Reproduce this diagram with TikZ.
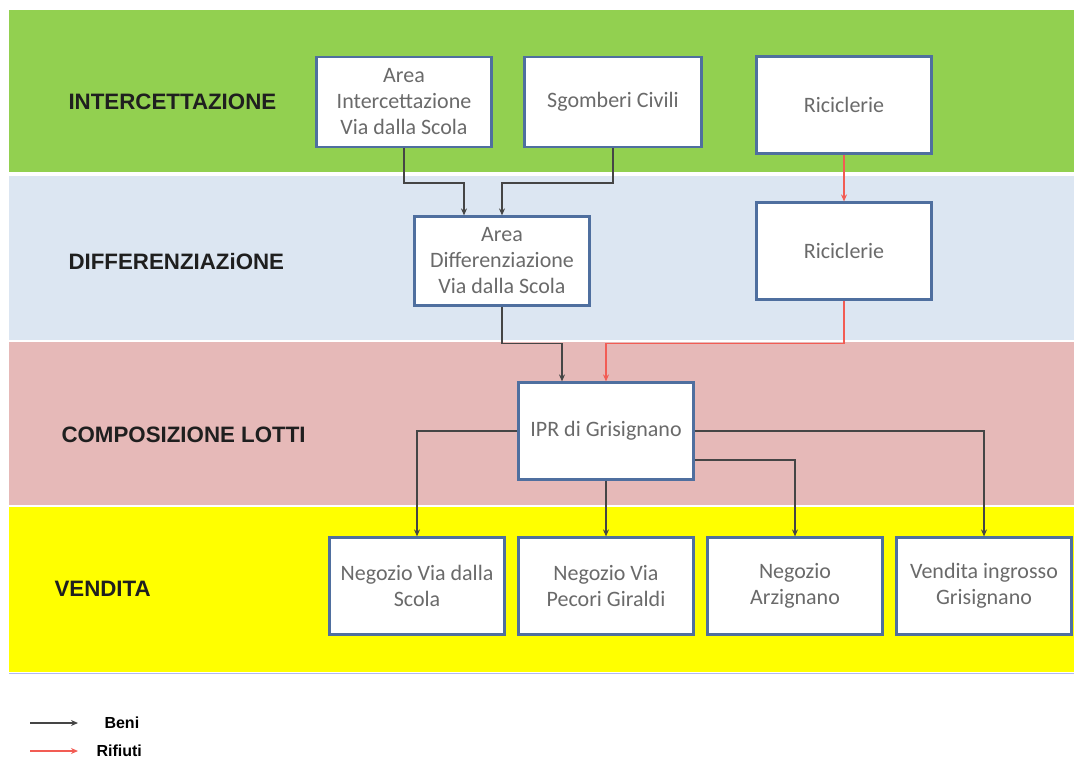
\documentclass[tikz,border=0pt]{standalone}
\usepackage{fontspec}
\setmainfont{Carlito}
\newfontfamily\headfont{Liberation Sans}
\usepackage{tikz}
\usetikzlibrary{arrows.meta, positioning, calc}
\definecolor{bandgreen}{HTML}{92D050}
\definecolor{bandblue}{HTML}{DCE6F2}
\definecolor{bandpink}{HTML}{E6B9B8}
\definecolor{bandyellow}{HTML}{FFFF00}
\definecolor{boxline}{HTML}{4F6F9F}
\definecolor{boxtext}{HTML}{6A6A6A}
\definecolor{beniline}{HTML}{454545}
\definecolor{rifline}{HTML}{F25C54}

\begin{document}
\begin{tikzpicture}[
    x=1pt, y=-1pt,
    box/.style={rectangle, draw=boxline, line width=2.2pt, fill=white, text=boxtext,
        minimum width=175pt, minimum height=97pt, align=center, inner sep=2pt,
        font=\fontsize{22}{26}\selectfont},
    phase/.style={anchor=west, font=\headfont\bfseries\fontsize{22.3}{24}\selectfont, text=black!88},
    legtxt/.style={anchor=west, font=\headfont\bfseries\fontsize{16}{18}\selectfont},
    beni/.style={-{Stealth[length=7pt, width=6pt]}, draw=beniline, line width=1.4pt},
    rifiuti/.style={-{Stealth[length=7pt, width=6pt]}, draw=rifline, line width=1.4pt}
]
\useasboundingbox (0,0) rectangle (1074,760);
\fill[bandgreen] (9,10) rectangle (1074,172);
\fill[bandblue] (9,176) rectangle (1074,340);
\fill[bandpink] (9,342) rectangle (1074,505);
\fill[bandyellow] (9,507) rectangle (1074,672);
\draw[bandblue!80!blue, line width=0.8pt] (9,673) -- (1074,673);

\node[phase] (ph1) at (65,102) {INTERCETTAZIONE};
\node[phase] (ph2) at (65,262) {DIFFERENZIAZiONE};
\node[phase] (ph3) at (58,435) {COMPOSIZIONE LOTTI};
\node[phase] (ph4) at (51,589) {VENDITA};

\node[box, minimum height=90pt] (areaint) at (404,102) {Area\\Intercettazione\\Via dalla Scola};
\node[box, minimum width=177pt, minimum height=90pt] (sgomberi) at (613,102) {Sgomberi Civili};
\node[box] (ric1) at (844,105) {Riciclerie};
\node[box] (ric2) at (844,251) {Riciclerie};
\node[box, minimum height=89pt] (areadiff) at (502,261) {Area\\Differenziazione\\Via dalla Scola};
\node[box] (ipr) at (606,431) {IPR di Grisignano};
\node[box] (neg1) at (417,586) {Negozio Via dalla\\Scola};
\node[box] (neg2) at (606,586) {Negozio Via\\Pecori Giraldi};
\node[box] (neg3) at (795,586) {Negozio\\Arzignano};
\node[box] (vend) at (984,586) {Vendita ingrosso\\Grisignano};

\draw[beni] (areaint.south) -- ++(0,35) -| ($(areadiff.north)+(-38,0)$);
\draw[beni] (sgomberi.south) -- ++(0,35) -| (areadiff.north);
\draw[rifiuti] (ric1) -- (ric2);
\draw[beni] (areadiff.south) -- ++(0,37) -| ($(ipr.north)+(-44,0)$);
\draw[rifiuti] (ric2.south) -- ++(0,43) -| (ipr.north);
\draw[beni] (ipr.west) -| (neg1.north);
\draw[beni] (ipr) -- (neg2);
\draw[beni] ($(ipr.east)+(0,29)$) -| (neg3.north);
\draw[beni] (ipr.east) -| (vend.north);

\coordinate (benistart) at (30,723);
\coordinate (rifstart) at (30,751);
\node[legtxt] (benitxt) at (101,723) {Beni};
\node[legtxt] (riftxt) at (93,751) {Rifiuti};
\draw[beni] (benistart) -- ++(48,0);
\draw[rifiuti] (rifstart) -- ++(48,0);
\end{tikzpicture}
\end{document}
